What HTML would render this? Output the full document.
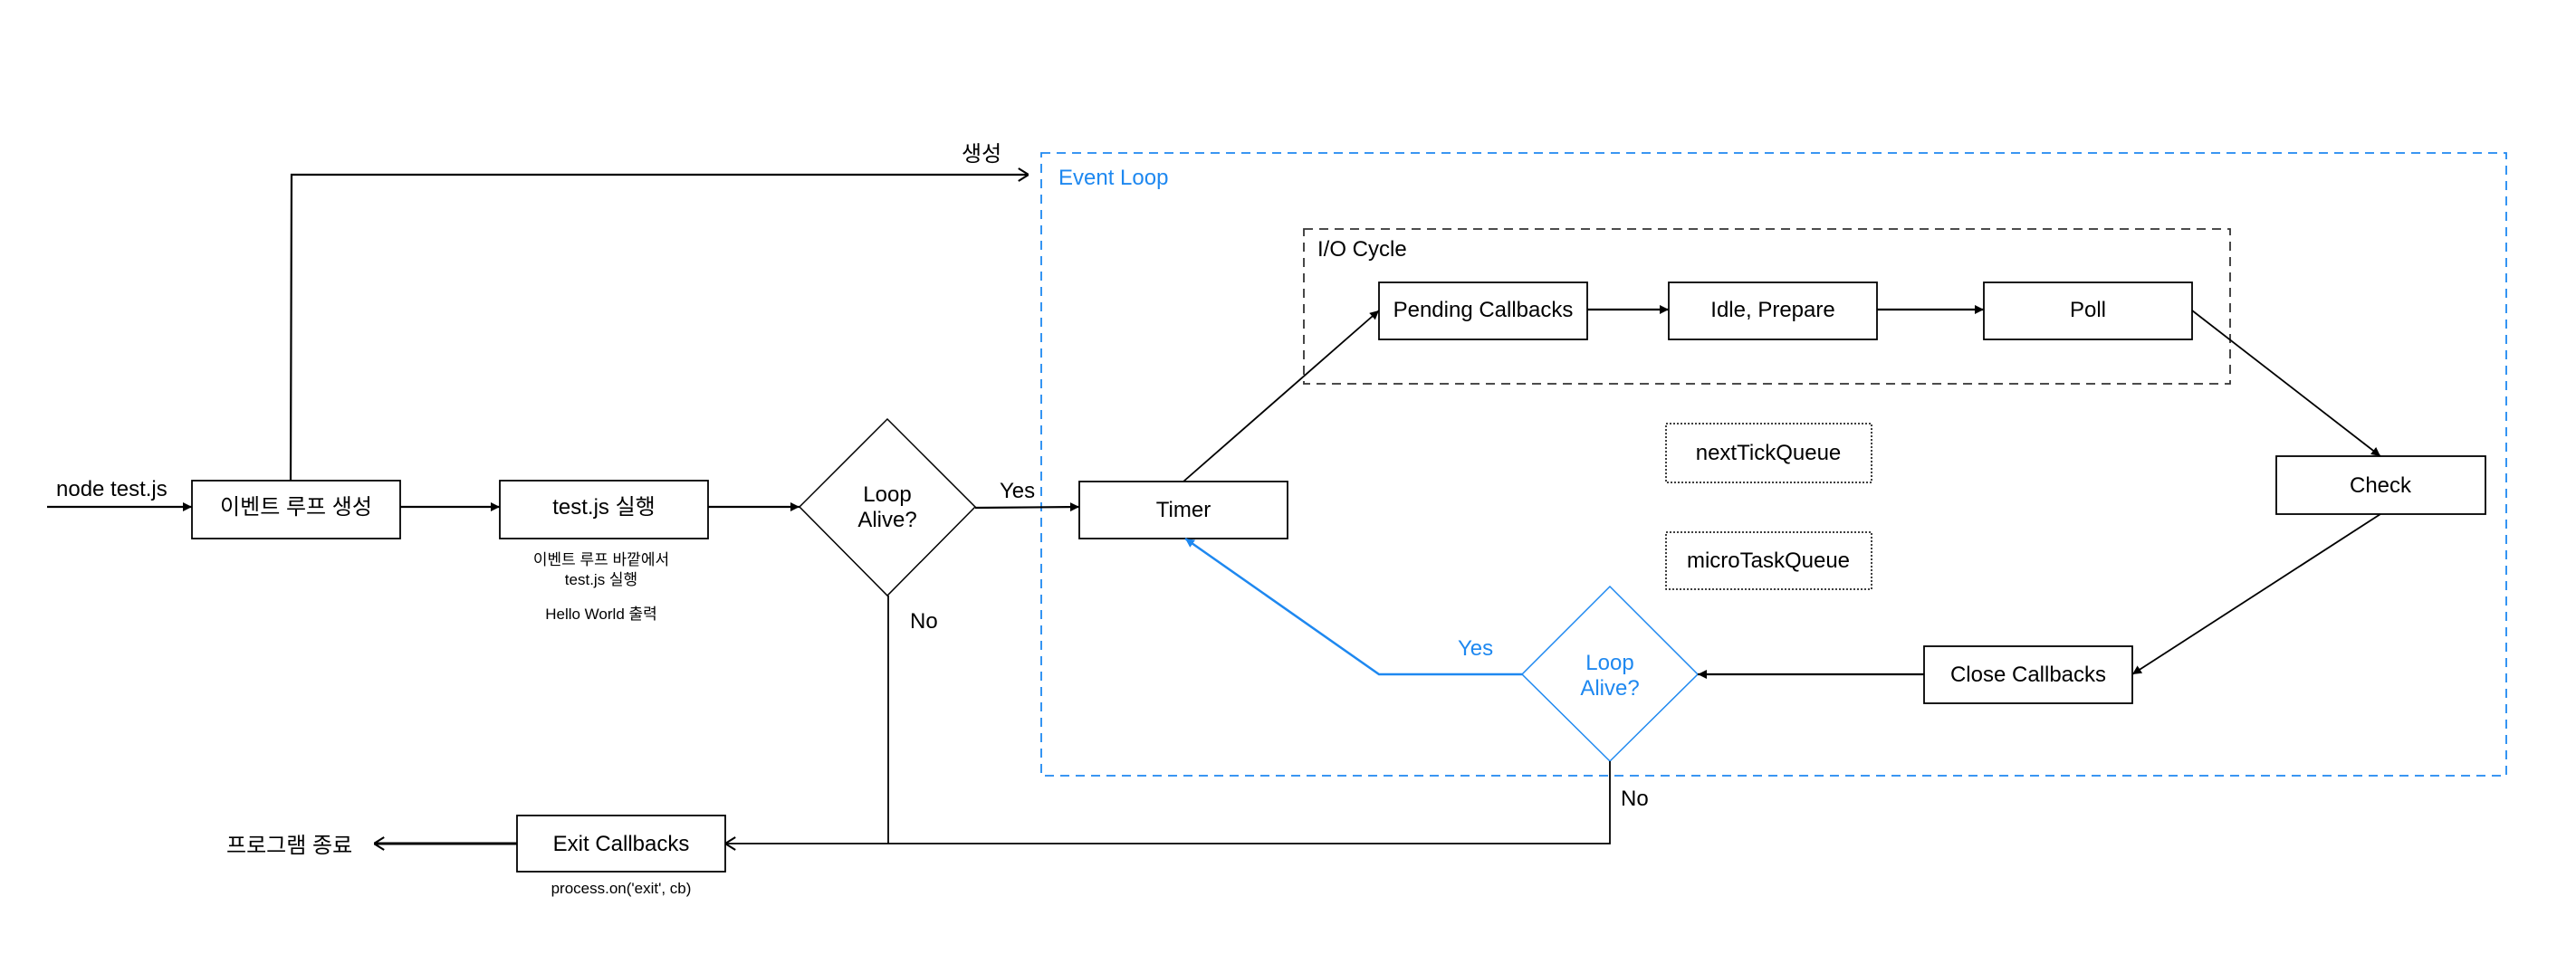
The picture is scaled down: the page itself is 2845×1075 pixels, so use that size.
<!DOCTYPE html>
<html><head><meta charset="utf-8"><style>
html,body{margin:0;padding:0;background:#fff}
svg{display:block}
text{font-family:"Liberation Sans","Noto Sans CJK KR",sans-serif;fill:#000}
</style></head><body>
<svg width="2845" height="1075" viewBox="0 0 2845 1075" xmlns="http://www.w3.org/2000/svg">
<defs>
<marker id="a" viewBox="0 0 10 10" refX="10" refY="5" markerWidth="10" markerHeight="10" orient="auto" markerUnits="userSpaceOnUse"><path d="M0,0 L10,5 L0,10 z" fill="#000"/></marker>
<marker id="b" viewBox="0 0 10 10" refX="10" refY="5" markerWidth="10" markerHeight="10" orient="auto" markerUnits="userSpaceOnUse"><path d="M0,0 L10,5 L0,10 z" fill="#1e88f0"/></marker>
<marker id="o" viewBox="0 0 10 10" refX="10" refY="5" markerWidth="14" markerHeight="16" orient="auto" markerUnits="userSpaceOnUse"><path d="M2,0 L10,5 L2,10" fill="none" stroke="#000" stroke-width="1.5"/></marker>
</defs>
<g fill="none" stroke="#000" stroke-width="1.8">
<rect x="1150" y="169" width="1618" height="688" stroke="#1e88f0" stroke-dasharray="10,7"/>
<rect x="1440" y="253" width="1023" height="171" stroke="#333" stroke-dasharray="10,7" stroke-width="1.8"/>
<rect x="212" y="531" width="230" height="64"/>
<rect x="552" y="531" width="230" height="64"/>
<rect x="571" y="901" width="230" height="62"/>
<rect x="1192" y="532" width="230" height="63"/>
<rect x="1523" y="312" width="230" height="63"/>
<rect x="1843" y="312" width="230" height="63"/>
<rect x="2191" y="312" width="230" height="63"/>
<rect x="2514" y="504" width="231" height="64"/>
<rect x="2125" y="714" width="230" height="63"/>
<rect x="1840" y="468" width="227" height="65" stroke-dasharray="2,2" stroke-width="1.5"/>
<rect x="1840" y="588" width="227" height="63" stroke-dasharray="2,2" stroke-width="1.5"/>
<polygon points="980,463 1077,560 980,658 883,560" stroke-width="1.5"/>
<polygon points="1778,648 1875,745 1778,841 1681,745" stroke="#1e88f0" stroke-width="1.5"/>
<line x1="52" y1="560" x2="212" y2="560" stroke-width="2.2" marker-end="url(#a)"/>
<line x1="442" y1="560" x2="552" y2="560" stroke-width="2.2" marker-end="url(#a)"/>
<line x1="782" y1="560" x2="883" y2="560" stroke-width="2.2" marker-end="url(#a)"/>
<line x1="1077" y1="561" x2="1192" y2="560" stroke-width="2.2" marker-end="url(#a)"/>
<polyline points="321,531 322,193 1136,193" stroke-width="2.2" marker-end="url(#o)"/>
<line x1="1307" y1="532" x2="1523" y2="343" marker-end="url(#a)"/>
<line x1="1753" y1="342" x2="1843" y2="342" stroke-width="2.2" marker-end="url(#a)"/>
<line x1="2073" y1="342" x2="2191" y2="342" stroke-width="2.2" marker-end="url(#a)"/>
<line x1="2421" y1="343" x2="2629" y2="504" marker-end="url(#a)"/>
<line x1="2629" y1="568" x2="2355" y2="745" marker-end="url(#a)"/>
<line x1="2125" y1="745" x2="1875" y2="745" stroke-width="2.2" marker-end="url(#a)"/>
<polyline points="1681,745 1523,745 1309,595" stroke="#1e88f0" stroke-width="2.5" marker-end="url(#b)"/>
<polyline points="1778,841 1778,932 801,932" marker-end="url(#o)"/>
<line x1="981" y1="658" x2="981" y2="932"/>
<line x1="571" y1="932" x2="413" y2="932" stroke-width="3" marker-end="url(#o)"/>
</g>
<g font-size="24" text-anchor="middle">
<text x="327" y="568">이벤트 루프 생성</text>
<text x="667" y="568">test.js 실행</text>
<text x="980" y="554">Loop</text>
<text x="980" y="582">Alive?</text>
<text x="686" y="940">Exit Callbacks</text>
<text x="1307" y="571">Timer</text>
<text x="1638" y="350">Pending Callbacks</text>
<text x="1958" y="350">Idle, Prepare</text>
<text x="2306" y="350">Poll</text>
<text x="2629" y="544">Check</text>
<text x="2240" y="753">Close Callbacks</text>
<text x="1953" y="508">nextTickQueue</text>
<text x="1953" y="627">microTaskQueue</text>
<text x="1778" y="740" style="fill:#1e88f0">Loop</text>
<text x="1778" y="768" style="fill:#1e88f0">Alive?</text>
</g>
<g font-size="24">
<text x="62" y="548">node test.js</text>
<text x="1062" y="178">생성</text>
<text x="1104" y="550">Yes</text>
<text x="1005" y="694">No</text>
<text x="1790" y="890">No</text>
<text x="250" y="942">프로그램 종료</text>
<text x="1169" y="204" style="fill:#1e88f0">Event Loop</text>
<text x="1455" y="283">I/O Cycle</text>
<text x="1610" y="724" style="fill:#1e88f0">Yes</text>
</g>
<g font-size="17" text-anchor="middle">
<text x="664" y="624">이벤트 루프 바깥에서</text>
<text x="664" y="646">test.js 실행</text>
<text x="664" y="684">Hello World 출력</text>
<text x="686" y="987">process.on('exit', cb)</text>
</g>
</svg>
</body></html>
